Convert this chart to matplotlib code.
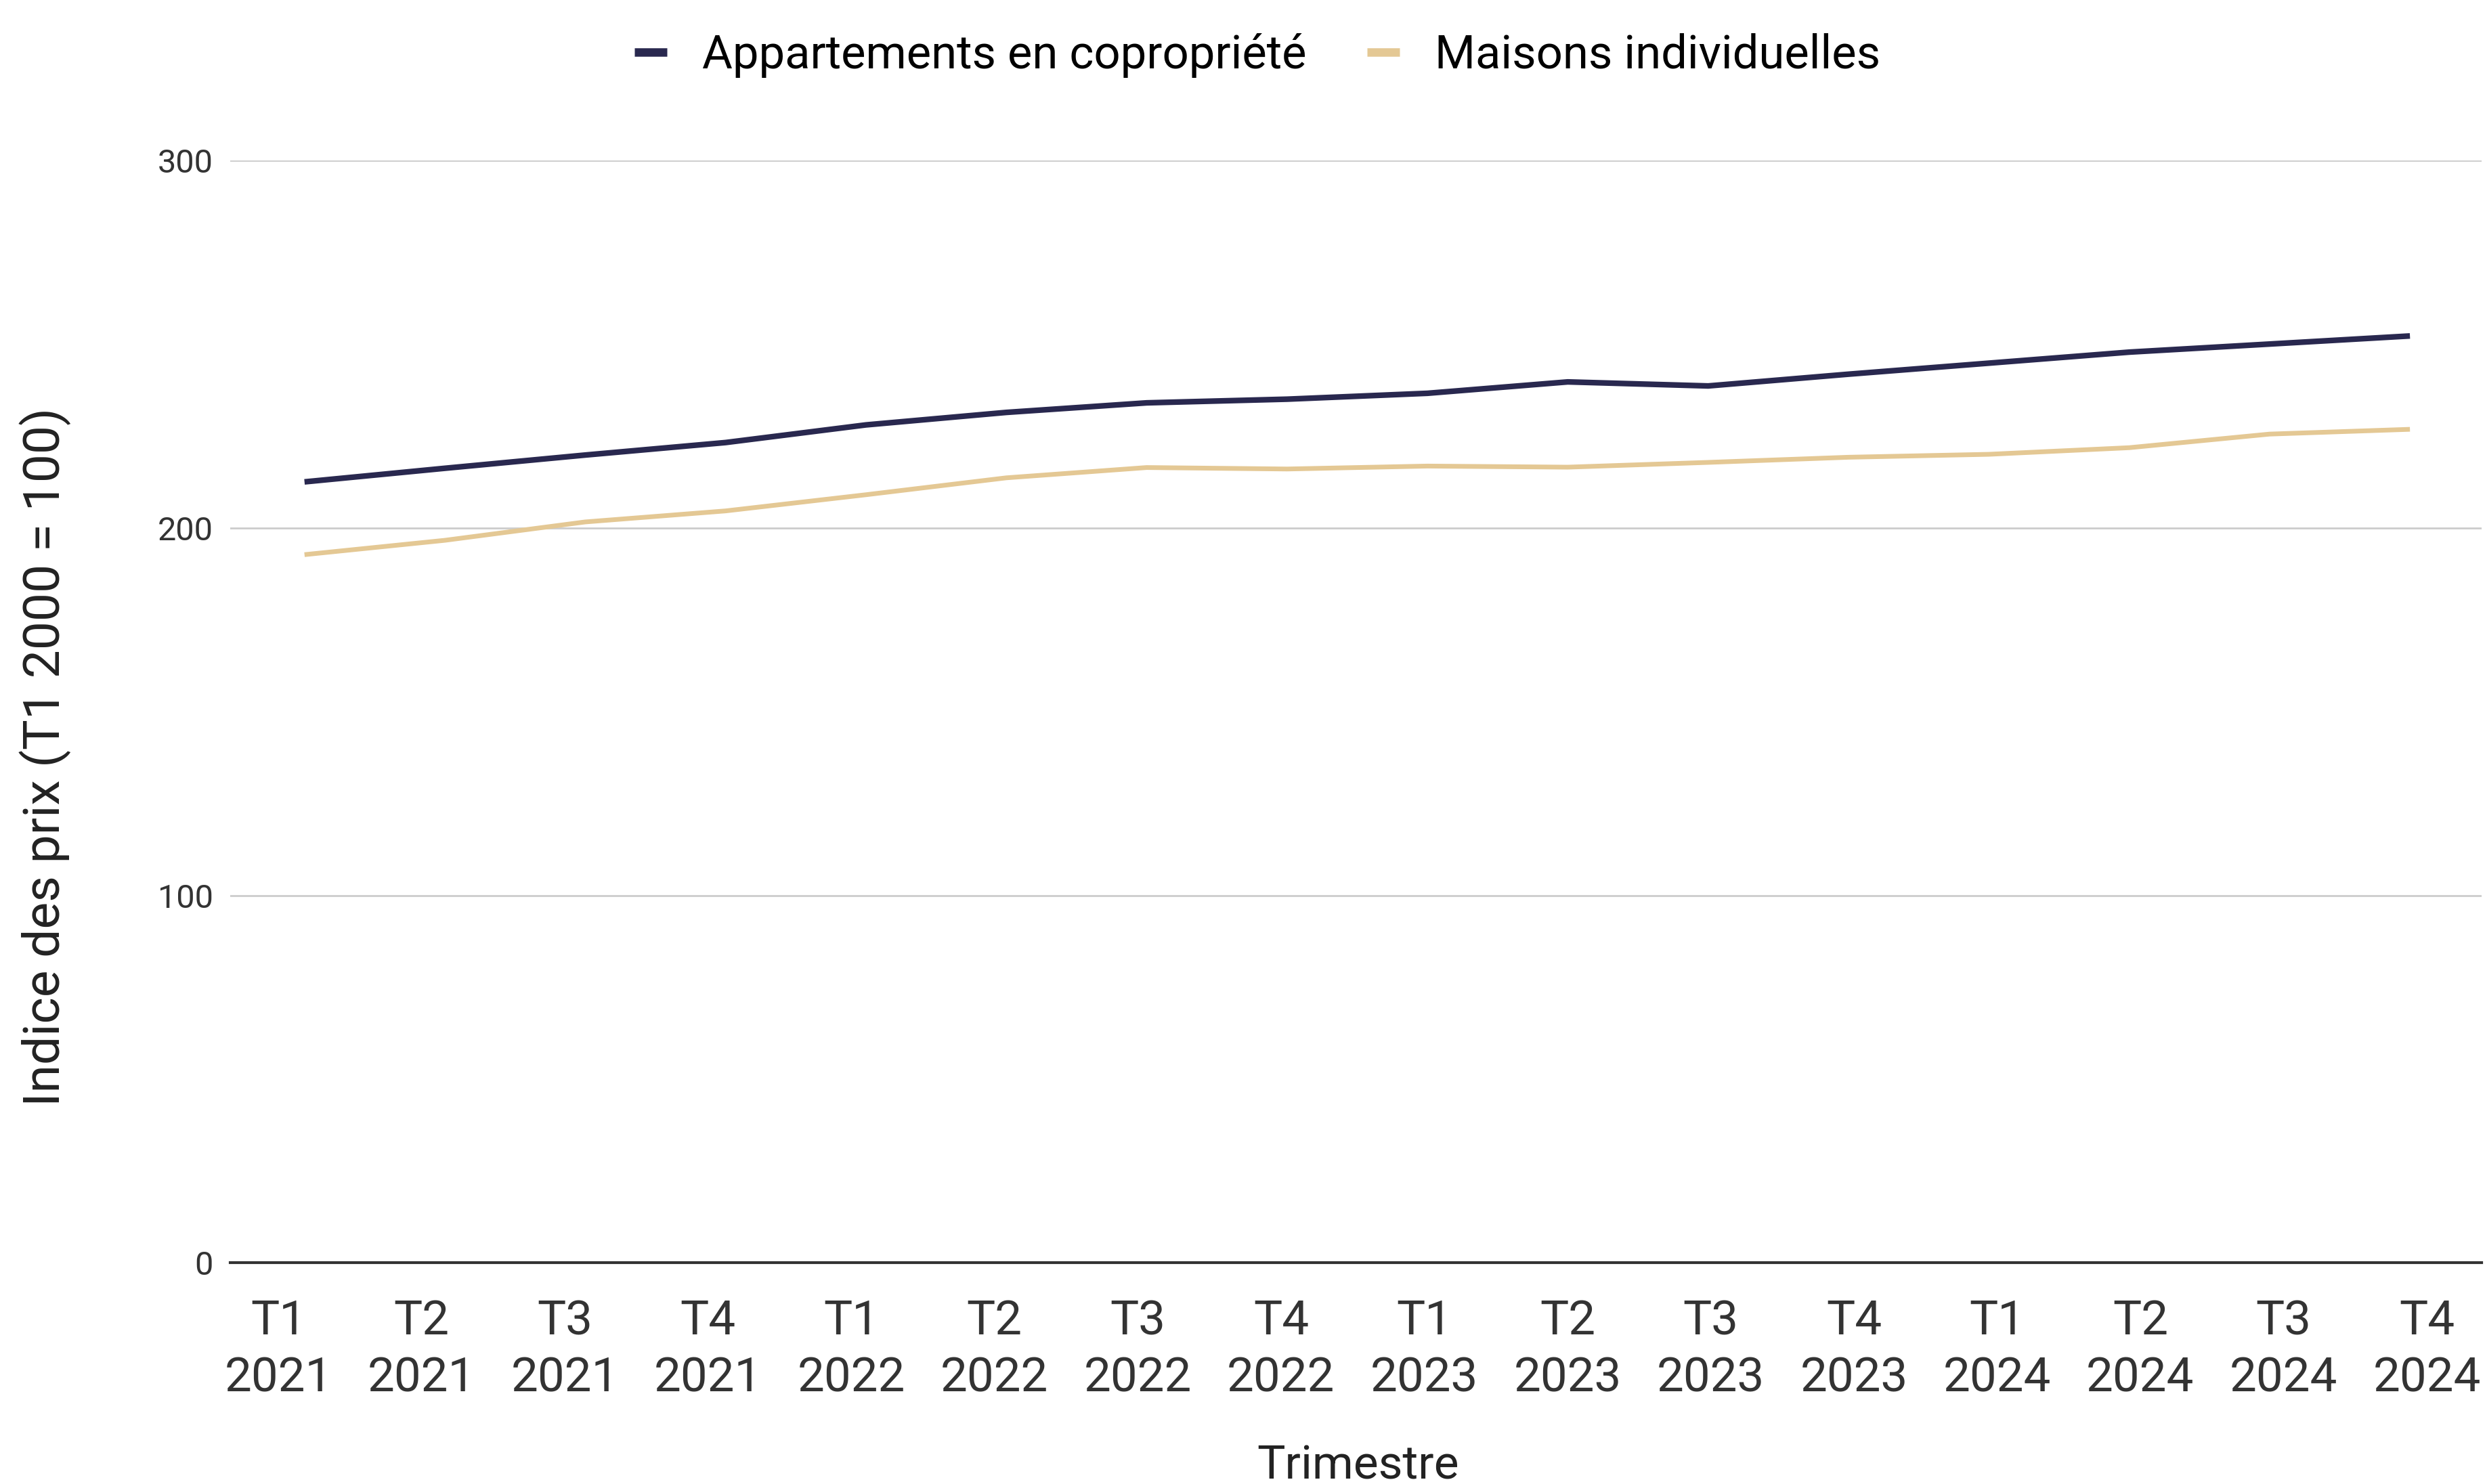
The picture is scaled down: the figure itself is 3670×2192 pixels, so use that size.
import numpy as np
import matplotlib
matplotlib.use("Agg")
import matplotlib.pyplot as plt
from matplotlib.transforms import ScaledTranslation

plt.rcParams['font.family'] = ['Roboto', 'DejaVu Sans']

# data
trimestres = ["T1\n2021", "T2\n2021", "T3\n2021", "T4\n2021",
              "T1\n2022", "T2\n2022", "T3\n2022", "T4\n2022",
              "T1\n2023", "T2\n2023", "T3\n2023", "T4\n2023",
              "T1\n2024", "T2\n2024", "T3\n2024", "T4\n2024"]
appartements = [212.5, 216.2, 219.8, 223.2, 228.0, 231.4, 234.0, 235.0,
                236.6, 239.7, 238.6, 241.8, 244.8, 247.8, 250.0, 252.2]
maisons = [192.7, 196.6, 201.6, 204.6, 209.0, 213.6, 216.4, 216.0,
           216.8, 216.5, 217.8, 219.2, 220.0, 221.8, 225.5, 226.8]
yticks = [0, 100, 200, 300]

navy = "#29284f"
tan = "#e4c894"

fig = plt.figure(figsize=(36.7, 21.92), dpi=100)
ax = fig.add_axes([0.0926, 0.149, 0.906, 0.743])

x = np.arange(len(trimestres))
ax.plot(x, appartements, color=navy, lw=6, solid_capstyle='butt',
        label="Appartements en copropriété", zorder=3)
ax.plot(x, maisons, color=tan, lw=5, solid_capstyle='butt',
        label="Maisons individuelles", zorder=3)

ax.set_xlim(-0.53, 15.51)
ax.set_ylim(0, 300)
ax.set_yticks(yticks)
ax.set_yticklabels([str(v) for v in yticks], fontsize=35, color="#333333")
ax.set_xticks(x)
ax.set_xticklabels(trimestres, fontsize=51, color="#333333", linespacing=1.32)
ax.tick_params(axis='y', length=0, pad=18)
ax.tick_params(axis='x', length=0, pad=38)

# the category labels are spread a little wider than the points in the original
for i, lab in enumerate(ax.get_xticklabels()):
    dx = (-16.4 + 1.8 * i) * 2.34 / 100.0
    lab.set_transform(lab.get_transform() + ScaledTranslation(dx, 0, fig.dpi_scale_trans))

ax.grid(axis='y', color="#cccccc", lw=2)
ax.set_axisbelow(True)
for s in ["top", "right", "left"]:
    ax.spines[s].set_visible(False)
ax.spines["bottom"].set_color("#333333")
ax.spines["bottom"].set_linewidth(3)
ax.spines["bottom"].set_zorder(4)

ax.set_ylabel("Indice des prix (T1 2000 = 100)", fontsize=54, color="#222222")
ax.yaxis.set_label_coords(-0.0707, 0.459)
ax.set_xlabel("Trimestre", fontsize=50, color="#222222")
ax.xaxis.set_label_coords(0.5008, -0.164)

leg = fig.legend(loc='center', bbox_to_anchor=(0.506, 0.9626), ncol=2,
                 frameon=False, fontsize=49.5, handlelength=0.7,
                 handletextpad=0.75, columnspacing=1.3)
for h in leg.get_lines():
    h.set_linewidth(9)

fig.savefig("out.png", dpi=100)
